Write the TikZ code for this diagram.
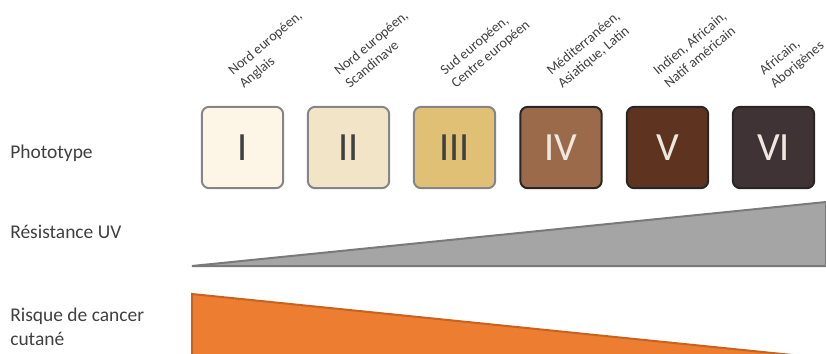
\documentclass[tikz,border=0pt]{standalone}
\usepackage{fontspec}
\setmainfont{Carlito}
\definecolor{c1}{HTML}{FDF6E7}
\definecolor{c2}{HTML}{F2E4C7}
\definecolor{c3}{HTML}{E0C075}
\definecolor{c4}{HTML}{9A6A4A}
\definecolor{c5}{HTML}{5E3420}
\definecolor{c6}{HTML}{403336}
\definecolor{tdark}{HTML}{404040}
\definecolor{tlight}{HTML}{EEE8DE}
\definecolor{bgray}{HTML}{858585}
\definecolor{bdark}{HTML}{262626}
\definecolor{gfill}{HTML}{A5A5A5}
\definecolor{gline}{HTML}{7A7A7A}
\definecolor{ofill}{HTML}{ED7D31}
\definecolor{oline}{HTML}{C8621E}
\begin{document}
\begin{tikzpicture}[x=0.75pt,y=-0.75pt,
  pbox/.style={draw, line width=1.5pt, rounded corners=5.5pt, minimum width=61pt, minimum height=61pt, inner sep=0pt, font=\fontsize{30}{36}\selectfont},
  lbox/.style={pbox, draw=bgray, text=tdark},
  dbox/.style={pbox, draw=bdark, text=tlight},
  lab/.style={rotate=40, anchor=base west, inner sep=0pt, text=tdark, font=\fontsize{10.6}{12.5}\selectfont},
  side/.style={anchor=base west, inner sep=0pt, text=tdark, font=\fontsize{14.6}{17.5}\selectfont}]
\useasboundingbox (0,0) rectangle (826,354);
\begin{scope}
\clip (0,0) rectangle (826,354);
% UV resistance wedge
\draw[fill=gfill, draw=gline, line width=1.5pt, line join=miter] (192,266) -- (826,266) -- (826,202) -- cycle;
% cancer risk wedge
\fill[ofill] (192,294) -- (812,357) -- (192,357) -- cycle;
\draw[oline, line width=1.5pt] (192,357) -- (192,294) -- (812,357);
\end{scope}
% phototype boxes
\node[lbox, fill=c1] (p1) at (242.5,147.5) {I};
\node[lbox, fill=c2] (p2) at (348.5,147.5) {II};
\node[lbox, fill=c3] (p3) at (454.5,147.5) {III};
\node[dbox, fill=c4] (p4) at (561,147.5) {IV};
\node[dbox, fill=c5] (p5) at (667.5,147.5) {V};
\node[dbox, fill=c6] (p6) at (773.5,147.5) {VI};
% rotated labels
\def\dx{10.9}\def\dy{13.0}
\node[lab] (l1a) at (233,76) {Nord européen,};
\node[lab] (l1b) at (233+\dx,76+\dy) {Anglais};
\node[lab] (l2a) at (339,76) {Nord européen,};
\node[lab] (l2b) at (339+\dx,76+\dy) {Scandinave};
\node[lab] (l3a) at (445,76) {Sud européen,};
\node[lab] (l3b) at (445+\dx,76+\dy) {Centre européen};
\node[lab] (l4a) at (551.5,76) {Méditerranéen,};
\node[lab] (l4b) at (551.5+\dx,76+\dy) {Asiatique, Latin};
\node[lab] (l5a) at (658,76) {Indien, Africain,};
\node[lab] (l5b) at (658+\dx,76+\dy) {Natif américain};
\node[lab] (l6a) at (764,76) {Africain,};
\node[lab] (l6b) at (764+\dx,76+\dy) {Aborigènes};
% side labels
\node[side] (t1) at (10,158) {Phototype};
\node[side] (t2) at (10,238) {Résistance UV};
\node[side] (t3) at (10,321) {Risque de cancer};
\node[side] (t4) at (10,345) {cutané};
\end{tikzpicture}
\end{document}
